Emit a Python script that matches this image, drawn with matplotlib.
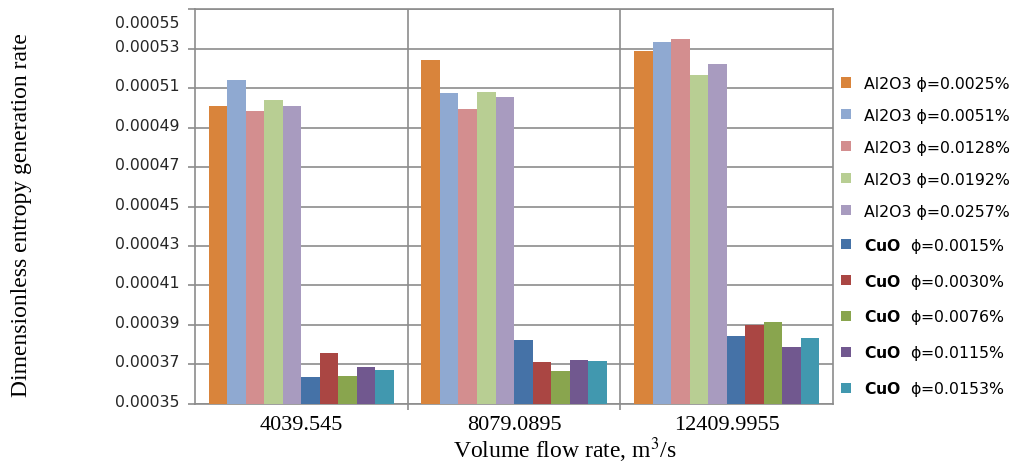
import numpy as np
import matplotlib.pyplot as plt
import matplotlib.transforms as mtransforms

# flow rates (categories on the x axis)
flow_rates = ["4039.545", "8079.0895", "12409.9955"]

series_labels = [
    "Al2O3 ϕ=0.0025%",
    "Al2O3 ϕ=0.0051%",
    "Al2O3 ϕ=0.0128%",
    "Al2O3 ϕ=0.0192%",
    "Al2O3 ϕ=0.0257%",
    r"$\mathbf{CuO}$  ϕ=0.0015%",
    r"$\mathbf{CuO}$  ϕ=0.0030%",
    r"$\mathbf{CuO}$  ϕ=0.0076%",
    r"$\mathbf{CuO}$  ϕ=0.0115%",
    r"$\mathbf{CuO}$  ϕ=0.0153%",
]

# one row per series, one column per flow rate
al_0025 = [0.0005008, 0.0005244, 0.0005285]
al_0051 = [0.0005140, 0.0005074, 0.0005331]
al_0128 = [0.0004982, 0.0004996, 0.0005349]
al_0192 = [0.0005040, 0.0005081, 0.0005165]
al_0257 = [0.0005008, 0.0005055, 0.0005224]
cu_0015 = [0.0003638, 0.0003823, 0.0003843]
cu_0030 = [0.0003757, 0.0003711, 0.0003901]
cu_0076 = [0.0003644, 0.0003666, 0.0003914]
cu_0115 = [0.0003686, 0.0003725, 0.0003789]
cu_0153 = [0.0003672, 0.0003718, 0.0003836]

series = [al_0025, al_0051, al_0128, al_0192, al_0257,
          cu_0015, cu_0030, cu_0076, cu_0115, cu_0153]

colors = ['#D9843B', '#8FA9D1', '#D38E8F', '#B8CE93', '#A89BBF',
          '#4572A7', '#AA4643', '#89A54E', '#71588F', '#4198AF']

y_ticks = np.arange(0.00035, 0.000551, 0.00002)

fig = plt.figure(figsize=(10.23, 4.64), dpi=100)
ax = fig.add_axes([0.1906, 0.1272, 0.6237, 0.8512])

x = np.arange(len(flow_rates))
bar_w = 0.087
n = len(series)
for i, (vals, col, lab) in enumerate(zip(series, colors, series_labels)):
    offs = (i - (n - 1) / 2) * bar_w
    ax.bar(x + offs, vals, width=bar_w, color=col, label=lab, zorder=3)

grid_col = '#8C8C8C'
ax.set_ylim(0.00035, 0.00055)
ax.set_xlim(-0.5, len(flow_rates) - 0.5)
ax.set_yticks(y_ticks)
ax.set_yticklabels(["%.5f" % v for v in y_ticks])
ax.yaxis.grid(True, color=grid_col, lw=1.2, zorder=0)
# category separators
for b in x[:-1] + 0.5:
    ax.axvline(b, color=grid_col, lw=1.2, zorder=1)

ax.set_xticks(x)
ax.set_xticklabels(flow_rates, family='Liberation Serif', fontsize=16)
ax.set_xticks(x[:-1] + 0.5, minor=True)
ax.tick_params(axis='x', which='major', length=0, pad=8)
ax.tick_params(axis='x', which='minor', length=4, color=grid_col, width=1.2)
ax.tick_params(axis='y', length=5, color=grid_col, width=1.2,
               labelsize=11.3, labelcolor='#262626', pad=6)
for s in ax.spines.values():
    s.set_color(grid_col)
    s.set_linewidth(1.2)

# excel puts the value labels a bit above their gridlines, the top one below
labels = ax.get_yticklabels()
for k, lab in enumerate(labels):
    dy = -12 if k == len(labels) - 1 else 4
    lab.set_transform(lab.get_transform() +
                      mtransforms.ScaledTranslation(0, dy / 100, fig.dpi_scale_trans))

fig.text(0.0215, 0.537, "Dimensionless entropy generation rate",
         rotation=90, ha='center', va='center',
         family='Liberation Serif', fontsize=17)
fig.text(0.552, 0.03, "Volume flow rate, m$^3$/s", ha='center', va='center',
         family='Liberation Serif', fontsize=17, math_fontfamily='stix')

ax.legend(loc='upper left', bbox_to_anchor=(0.816, 0.848),
          bbox_transform=fig.transFigure, frameon=False,
          fontsize=11.3, handlelength=0.65, handleheight=0.65,
          handletextpad=0.8, labelspacing=1.08, borderaxespad=0)

fig.savefig("out.png", dpi=100)
